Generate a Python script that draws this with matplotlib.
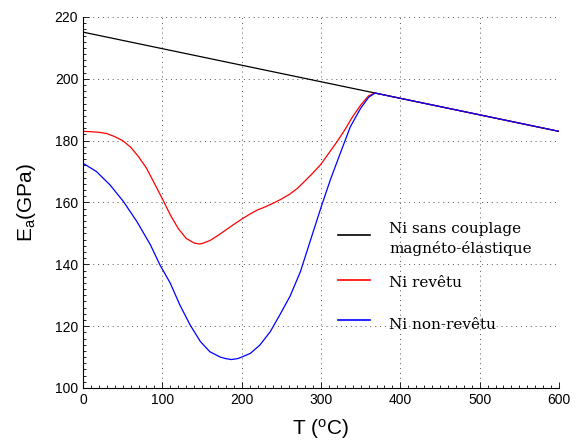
import matplotlib
matplotlib.use("Agg")
import matplotlib.pyplot as plt
from matplotlib.ticker import MultipleLocator

plt.rcParams['font.family'] = ['Liberation Sans', 'DejaVu Sans']
plt.rcParams['mathtext.fontset'] = 'custom'
plt.rcParams['mathtext.rm'] = 'Liberation Sans'
plt.rcParams['mathtext.it'] = 'Liberation Sans:italic'

# Temperature (°C) and apparent Young's modulus (GPa)
t_ref = [0, 600]
e_ref = [215.1, 183.0]

t_coated = [0, 10, 20, 30, 40, 50, 60, 70, 80, 90, 100, 110, 120, 130, 140,
            146, 150, 160, 170, 180, 190, 200, 210, 220, 230, 240, 250, 260,
            270, 280, 290, 300, 310, 320, 330, 340, 350, 360, 368, 600]
e_coated = [183.0, 182.9, 182.7, 182.3, 181.3, 180.0, 177.9, 174.8, 171.1,
            166.2, 161.2, 156.0, 151.6, 148.4, 146.9, 146.6, 146.7, 147.7,
            149.3, 151.1, 152.9, 154.6, 156.2, 157.6, 158.6, 159.8, 161.1,
            162.6, 164.5, 167.0, 169.6, 172.4, 176.0, 179.6, 183.5, 187.8,
            191.5, 194.5, 195.4, 183.0]

t_bare = [0, 17, 34, 51, 68, 85, 97, 110, 122, 135, 148, 160, 173, 180, 187,
          195, 200, 211, 223, 236, 248, 261, 274, 286, 300, 312, 325, 337,
          350, 360, 368, 600]
e_bare = [172.7, 170.0, 165.7, 160.3, 153.8, 146.3, 139.8, 133.9, 126.9,
          120.4, 115.0, 111.7, 110.0, 109.5, 109.2, 109.5, 110.0, 111.2,
          113.9, 118.2, 123.6, 129.7, 137.6, 147.2, 158.4, 167.5, 176.4,
          184.5, 190.5, 194.0, 195.4, 183.0]

labels = ["Ni sans couplage\nmagnéto-élastique", "Ni revêtu", "Ni non-revêtu"]
colors = ['black', '#ff0000', '#0000ff']

fig = plt.figure(figsize=(5.76, 4.41), dpi=100)
ax = fig.add_axes([0.1441, 0.1202, 0.8264, 0.8413])

ax.plot(t_ref, e_ref, color=colors[0], lw=0.9)
ax.plot(t_coated, e_coated, color=colors[1], lw=0.9)
ax.plot(t_bare, e_bare, color=colors[2], lw=0.9)

ax.set_xlim(0, 600)
ax.set_ylim(100, 220)
ax.xaxis.set_major_locator(MultipleLocator(100))
ax.yaxis.set_major_locator(MultipleLocator(20))
ax.xaxis.set_minor_locator(MultipleLocator(10))
ax.yaxis.set_minor_locator(MultipleLocator(2))
ax.tick_params(which='both', direction='in', labelsize=10, width=0.6)
ax.tick_params(which='major', length=4)
ax.tick_params(which='minor', length=2)
ax.grid(True, which='major', linestyle=(0, (1, 4)), color='#555555', lw=0.7)
for side in ('top', 'right'):
    ax.spines[side].set_visible(False)
for side in ('left', 'bottom'):
    ax.spines[side].set_linewidth(0.8)

ax.set_xlabel(r"T ($^{\rm o}$C)", fontsize=15, labelpad=7)
ax.set_ylabel(r"E$_{\rm a}$(GPa)", fontsize=15, labelpad=12)

# Legend: short line samples with serif labels, no frame
handle_x = (0.536, 0.603)
text_x = 0.643
handle_y = [0.412, 0.291, 0.182]
text_lines = [[(labels[0].split("\n")[0], 0.417), (labels[0].split("\n")[1], 0.363)],
              [(labels[1], 0.273)],
              [(labels[2], 0.159)]]
serif = {'family': ['DejaVu Serif'], 'size': 11}
for col, hy, lines in zip(colors, handle_y, text_lines):
    ax.plot(handle_x, [hy, hy], color=col, lw=1.2, transform=ax.transAxes,
            clip_on=False)
    for txt, ty in lines:
        ax.text(text_x, ty, txt, transform=ax.transAxes, va='baseline',
                ha='left', fontdict=serif)

fig.savefig("out.png", dpi=100)
